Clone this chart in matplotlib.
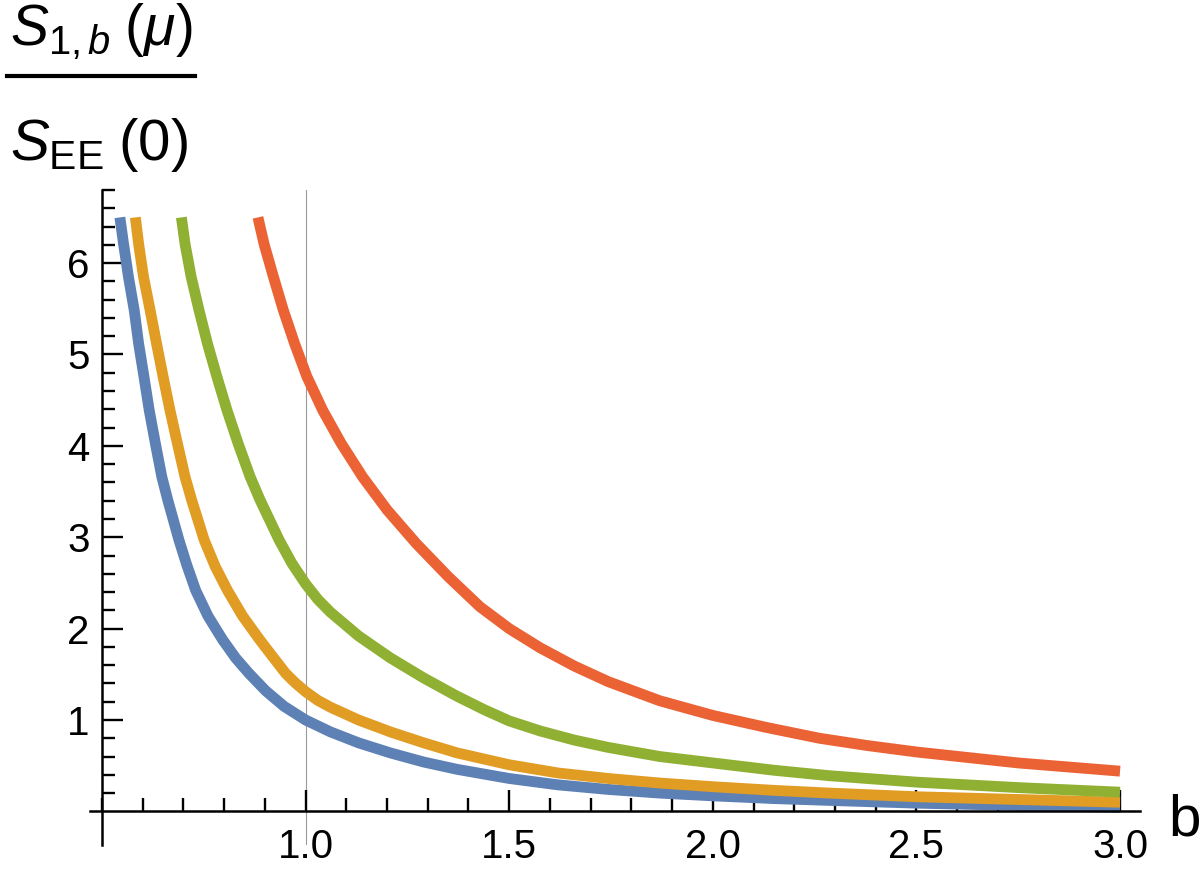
import matplotlib
matplotlib.use('Agg')

import matplotlib.pyplot as plt
from matplotlib.lines import Line2D
from matplotlib.ticker import MultipleLocator, FixedLocator


# ---------- Data ----------

b_blue = [0.544, 0.553, 0.565, 0.579, 0.590, 0.603, 0.616, 0.631, 0.647, 0.662,
          0.689, 0.708, 0.730, 0.760, 0.796, 0.828, 0.861, 0.902, 0.947, 1.0,
          1.061, 1.13, 1.208, 1.29, 1.372, 1.5, 1.62, 1.743, 1.87, 2.0,
          2.15, 2.287, 2.5, 2.75, 3.0]
s_blue = [6.5, 6.21, 5.85, 5.49, 5.12, 4.76, 4.39, 4.03, 3.66, 3.40,
          2.97, 2.70, 2.42, 2.14, 1.88, 1.68, 1.51, 1.32, 1.15, 1.0,
          0.87, 0.75, 0.64, 0.54, 0.46, 0.36, 0.29, 0.24, 0.20, 0.17,
          0.14, 0.12, 0.09, 0.065, 0.045]

b_orange = [0.582, 0.590, 0.602, 0.618, 0.634, 0.650, 0.667, 0.685, 0.704, 0.720,
            0.751, 0.778, 0.808, 0.845, 0.887, 0.918, 0.951, 0.975, 1.0, 1.03,
            1.061, 1.13, 1.208, 1.29, 1.372, 1.5, 1.62, 1.743, 1.87, 2.0,
            2.15, 2.287, 2.5, 2.75, 3.0]
s_orange = [6.5, 6.21, 5.85, 5.49, 5.12, 4.76, 4.39, 4.03, 3.66, 3.41,
            2.97, 2.68, 2.42, 2.14, 1.88, 1.70, 1.51, 1.405, 1.31, 1.215,
            1.14, 1.00, 0.87, 0.75, 0.64, 0.51, 0.42, 0.36, 0.31, 0.27,
            0.23, 0.20, 0.16, 0.13, 0.10]

b_green = [0.695, 0.704, 0.719, 0.738, 0.759, 0.782, 0.807, 0.834, 0.864, 0.888,
           0.935, 0.967, 1.0, 1.03, 1.061, 1.13, 1.208, 1.29, 1.372, 1.44,
           1.5, 1.576, 1.66, 1.743, 1.87, 2.0, 2.15, 2.287, 2.5, 2.75, 3.0]
s_green = [6.5, 6.21, 5.85, 5.49, 5.12, 4.76, 4.39, 4.03, 3.66, 3.41,
           2.97, 2.71, 2.49, 2.32, 2.18, 1.92, 1.68, 1.46, 1.26, 1.11,
           0.99, 0.88, 0.78, 0.70, 0.60, 0.53, 0.45, 0.39, 0.32, 0.26, 0.21]

b_red = [0.883, 0.898, 0.921, 0.945, 0.973, 1.003, 1.042, 1.087, 1.140, 1.200,
         1.272, 1.350, 1.428, 1.5, 1.576, 1.66, 1.743, 1.87, 2.0, 2.13,
         2.262, 2.38, 2.5, 2.75, 3.0]
s_red = [6.5, 6.21, 5.85, 5.49, 5.12, 4.76, 4.39, 4.03, 3.66, 3.30,
         2.93, 2.57, 2.24, 2.00, 1.79, 1.59, 1.42, 1.21, 1.05, 0.92,
         0.80, 0.72, 0.65, 0.53, 0.44]

curves = [
    (b_blue, s_blue, "#5E81B5"),
    (b_orange, s_orange, "#E19C24"),
    (b_green, s_green, "#8FB032"),
    (b_red, s_red, "#EB6235"),
]

x_major = [1.0, 1.5, 2.0, 2.5, 3.0]
y_major = [1, 2, 3, 4, 5, 6]


# ---------- Style ----------

plt.rcParams['font.family'] = ['Liberation Sans', 'DejaVu Sans']
plt.rcParams['mathtext.fontset'] = 'custom'
plt.rcParams['mathtext.rm'] = 'Liberation Sans'
plt.rcParams['mathtext.it'] = 'Liberation Sans:italic'
plt.rcParams['mathtext.bf'] = 'Liberation Sans:bold'

fig = plt.figure(figsize=(12.04, 8.76), dpi=100)
ax = fig.add_axes([90 / 1204, 31 / 876, 1050 / 1204, 655 / 876])

ax.set_xlim(0.4706, 3.049)
ax.set_ylim(-0.368, 6.80)

# vertical reference line at b = 1
ax.axvline(1.0, color="#9a9a9a", lw=0.8, zorder=0)

for b, s, col in curves:
    ax.plot(b, s, color=col, lw=7.8, solid_capstyle='butt',
            solid_joinstyle='round', zorder=2)

# ---------- Axes through the origin ----------

for side in ["top", "right"]:
    ax.spines[side].set_visible(False)
ax.spines["left"].set_position(("data", 0.5))
ax.spines["bottom"].set_position(("data", 0.0))
ax.spines["left"].set_linewidth(1.8)
ax.spines["bottom"].set_linewidth(1.8)

ax.xaxis.set_major_locator(FixedLocator(x_major))
ax.xaxis.set_minor_locator(MultipleLocator(0.1))
ax.yaxis.set_major_locator(FixedLocator(y_major))
ax.yaxis.set_minor_locator(FixedLocator([i * 0.2 for i in range(1, 35)]))

ax.set_xticklabels([f"{v:.1f}" for v in x_major])
ax.set_yticklabels([str(v) for v in y_major])

ax.tick_params(axis="both", which="major", direction="in", length=15,
               width=1.7, labelsize=29)
ax.tick_params(axis="both", which="minor", direction="in", length=9.5,
               width=1.7)
ax.tick_params(axis="x", which="major", pad=12)
ax.tick_params(axis="y", which="major", pad=9)

# ---------- Labels ----------

fig.text(1168 / 1204, 1 - 835 / 876, "b", fontsize=42,
         ha="left", va="baseline")

fig.text(10 / 1204, 1 - 45 / 876, r"$S_{1,b}\;(\mu)$", fontsize=41,
         ha="left", va="baseline")
fig.text(10 / 1204, 1 - 160 / 876, r"$S_{\mathrm{EE}}\;(0)$", fontsize=42,
         ha="left", va="baseline")
fig.add_artist(Line2D([7 / 1204, 195 / 1204], [1 - 76 / 876, 1 - 76 / 876],
                      color="black", lw=3, transform=fig.transFigure))

fig.savefig("out.png", dpi=100)
